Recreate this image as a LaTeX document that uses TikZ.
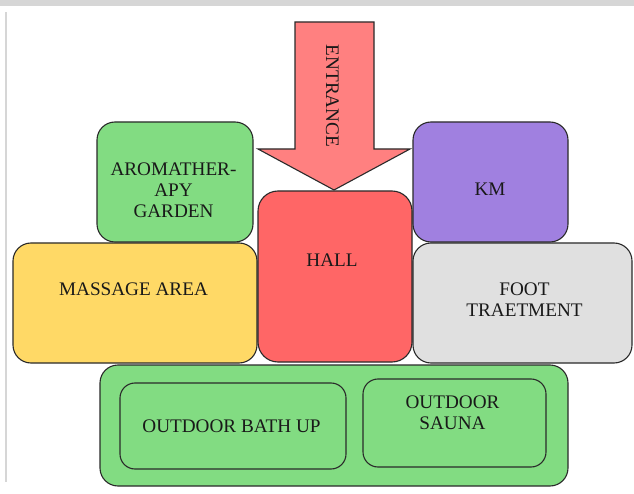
\documentclass[tikz,border=0pt]{standalone}
\usepackage{fontspec}
\setmainfont{Liberation Serif}
\definecolor{cgreen}{HTML}{82DC82}
\definecolor{cyellow}{HTML}{FFD966}
\definecolor{chall}{HTML}{FF6666}
\definecolor{carrow}{HTML}{FF8080}
\definecolor{cpurple}{HTML}{A080E0}
\definecolor{cgray}{HTML}{E0E0E0}
\definecolor{cline}{HTML}{2A2A2A}
\definecolor{cwater}{HTML}{D6D6D6}
\tikzset{
  box/.style={draw=cline, line width=1.1pt, rounded corners=18pt, rectangle, inner sep=0pt, outer sep=0pt},
  inbox/.style={box, rounded corners=15pt},
  lbl/.style={font=\fontsize{19.2}{21}\selectfont, text=black!90, align=center, inner sep=0pt},
}
\begin{document}
\begin{tikzpicture}[x=1pt,y=-1pt]
\useasboundingbox (0,0) rectangle (634,494);
\fill[white] (0,0) rectangle (634,494);
% watermark remnants
\fill[cwater] (0,0) rectangle (634,6);
\fill[cwater] (4.5,12) rectangle (7,482);
% boxes
\node[box, fill=cgreen, minimum width=156pt, minimum height=120pt] (aroma) at (175,182) {};
\node[box, fill=cyellow, minimum width=244pt, minimum height=120pt] (massage) at (135,303) {};
\node[box, fill=chall, rounded corners=20pt, minimum width=154pt, minimum height=171pt] (hall) at (335,276.5) {};
\node[box, fill=cpurple, minimum width=155pt, minimum height=120pt] (km) at (490.5,182) {};
\node[box, fill=cgray, minimum width=219pt, minimum height=120pt] (foot) at (522.5,303) {};
\node[box, fill=cgreen, minimum width=468pt, minimum height=121pt] (outer) at (334,425.5) {};
\node[inbox, fill=cgreen, minimum width=226pt, minimum height=86pt] (bath) at (233,426) {};
\node[inbox, fill=cgreen, minimum width=183pt, minimum height=88pt] (sauna) at (454.5,423) {};
% entrance arrow
\draw[draw=cline, line width=1.1pt, fill=carrow, line join=miter]
  (295,22) -- (374,22) -- (374,149) -- (410,149) -- (334,190) -- (258,149) -- (295,149) -- cycle;
\node[lbl, rotate=-90] (entrance) at (332.5,96) {ENTRANCE};
% labels
\node[lbl] (aromat) at (173.5,190) {AROMATHER-\\APY\\GARDEN};
\node[lbl] (massaget) at (133.5,289) {MASSAGE AREA};
\node[lbl] (hallt) at (332,260.5) {HALL};
\node[lbl] (kmt) at (490,189.5) {KM};
\node[lbl] (foott) at (524.5,300) {FOOT\\TRAETMENT};
\node[lbl] (batht) at (231.5,426.5) {OUTDOOR BATH UP};
\node[lbl] (saunat) at (452.5,413) {OUTDOOR\\SAUNA};
\end{tikzpicture}
\end{document}
